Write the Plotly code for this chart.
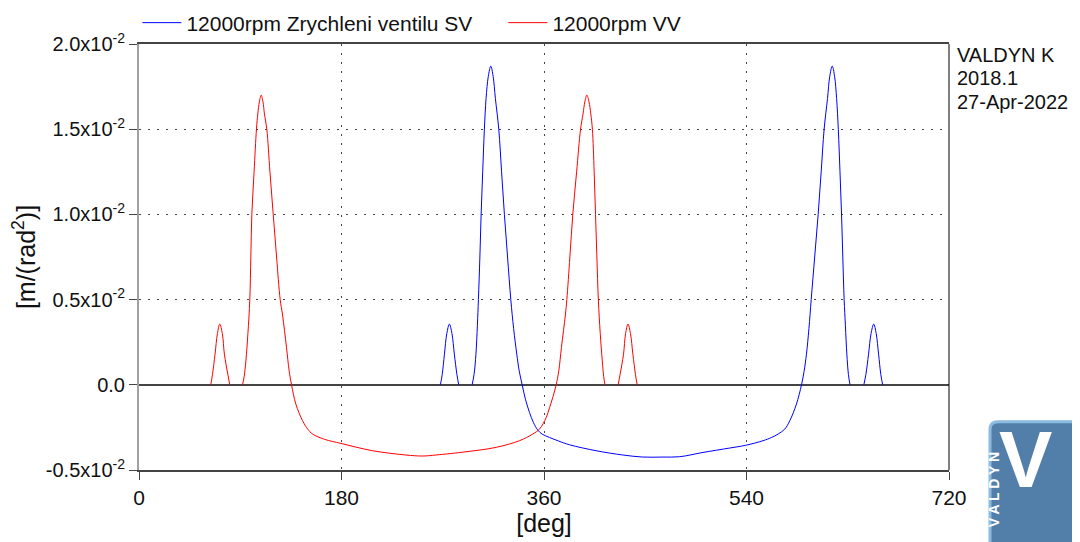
import plotly.graph_objects as go

# crank angle [deg] and valve acceleration [m/rad^2]
# None marks where the curve sits on the zero line (hidden there)
sv_deg = [267.9, 269.5, 271.5, 273.6, 275.9, 278.2, 280.3, 282.6, 284.2, None,
          296.1, 297.8, 299.5, 300.8, 301.7, 303.0, 304.1, 305.5, 307.0, 308.5, 310.5, 312.7,
          314.8, 316.8, 319.8, 322.3, 324.8, 327.6, 330.5, 333.0, 335.8, 338.0, 340.6,
          343.5, 347.1, 350.5, 354.5, 358.5, 364.9, 373.0, 382.7, 406.4, 430.1, 447.9,
          465.7, 480.6, 501.3, 525.1, 539.3, 554.7, 562.0, 568.1, 574.0, 578.5, 584.4,
          588.9, 591.2, 593.3, 595.5, 597.5, 600.6, 603.7, 606.4, 609.0, 612.0, 614.0,
          616.2, 618.3, 620.1, 621.6, 623.1, 624.5, 625.6, 626.8, 627.9, 629.2, 630.6, 632.0, None,
          644.3, 646.1, 648.5, 650.7, 653.1, 655.3, 657.4, 659.4, 661.0]
sv_acc = [0.0, 0.0006, 0.0018, 0.0030, 0.00356, 0.0030, 0.0018, 0.0006, 0.0, None,
          0.0, 0.0006, 0.0018, 0.0035, 0.005, 0.0075, 0.010, 0.0125, 0.015, 0.0168, 0.0181, 0.0187,
          0.0181, 0.0168, 0.015, 0.0125, 0.010, 0.0075, 0.005, 0.0033, 0.0018, 0.0008, 0.0,
          -0.00085, -0.00162, -0.0022, -0.00266, -0.0029, -0.00309, -0.0033, -0.00352, -0.00387, -0.00412, -0.00424,
          -0.00424, -0.00422, -0.00397, -0.00371, -0.00355, -0.00328, -0.0031, -0.00289, -0.0026, -0.00211, -0.00113,
          0.0, 0.0008, 0.0018, 0.0033, 0.005, 0.0075, 0.010, 0.0125, 0.015, 0.0168, 0.0181,
          0.0187, 0.0181, 0.0168, 0.015, 0.0125, 0.010, 0.0075, 0.005, 0.0035, 0.0018, 0.0006, 0.0, None,
          0.0, 0.0006, 0.0018, 0.0030, 0.00356, 0.0030, 0.0018, 0.0006, 0.0]

vv_deg = [63.8, 65.3, 67.6, 69.7, 71.8, 74.1, 75.9, 79.0, 80.7, None,
          92.0, 93.5, 95.0, 96.8, 98.5, 99.4, 100.3, 102.3, 104.4, 105.6, 107.0, 108.6,
          110.2, 111.5, 113.6, 116.4, 119.3, 122.3, 125.5, 127.6, 131.1, 133.5, 135.6,
          139.4, 145.4, 150.0, 154.3, 165.0, 179.5, 207.7, 237.3, 252.2, 264.0, 290.7,
          317.5, 338.2, 350.0, 356.0, 362.0, 365.0, 368.0,
          370.8, 373.1, 375.5, 379.0, 380.3, 383.0, 385.6, 389.0, 392.5, 394.7, 396.3, 398.1,
          400.0, 401.6, 403.0, 404.6, 405.8, 407.0, 408.3, 410.0, 411.8, 413.0, 414.2, None,
          425.9, 427.6, 430.7, 432.5, 434.7, 436.9, 439.0, 441.3, 442.8]
vv_acc = [0.0, 0.0006, 0.0018, 0.0030, 0.00356, 0.0030, 0.0018, 0.0006, 0.0, None,
          0.0, 0.0005, 0.0014, 0.0030, 0.005, 0.0075, 0.010, 0.0125, 0.015, 0.0159, 0.0166, 0.0170,
          0.0166, 0.0159, 0.015, 0.0125, 0.010, 0.0075, 0.005, 0.0041, 0.0022, 0.0008, 0.0,
          -0.00113, -0.00211, -0.0026, -0.00289, -0.0032, -0.00344, -0.00387, -0.00412, -0.00418, -0.00412, -0.00393,
          -0.00367, -0.00328, -0.00289, -0.0026, -0.00191, -0.00133, -0.0007,
          0.0, 0.0008, 0.0022, 0.0041, 0.005, 0.0075, 0.010, 0.0125, 0.015, 0.0159, 0.0166, 0.0170,
          0.0166, 0.0159, 0.015, 0.0125, 0.010, 0.0075, 0.005, 0.0030, 0.0014, 0.0005, 0.0, None,
          0.0, 0.0006, 0.0018, 0.0030, 0.00356, 0.0030, 0.0018, 0.0006, 0.0]

x_ticks = [0, 180, 360, 540, 720]
y_ticks = [-0.005, 0.0, 0.005, 0.01, 0.015, 0.02]
y_ticktext = ["-0.5x10<sup>-2</sup>", "0.0", "0.5x10<sup>-2</sup>",
              "1.0x10<sup>-2</sup>", "1.5x10<sup>-2</sup>", "2.0x10<sup>-2</sup>"]
info_lines = ["VALDYN K", "2018.1", "27-Apr-2022"]

FONT = "Liberation Sans, Arial, sans-serif"

fig = go.Figure()
fig.add_trace(go.Scatter(x=sv_deg, y=sv_acc, mode="lines", name="12000rpm Zrychleni ventilu SV",
                         line=dict(color="#0000ff", width=1, shape="spline", smoothing=1.0),
                         connectgaps=False))
fig.add_trace(go.Scatter(x=vv_deg, y=vv_acc, mode="lines", name="12000rpm VV",
                         line=dict(color="#ff0000", width=1, shape="spline", smoothing=1.0),
                         connectgaps=False))

fig.update_xaxes(range=[0, 720], tickvals=x_ticks, ticks="outside", ticklen=8, tickcolor="#444",
                 showline=True, linecolor="#444", linewidth=2, mirror=True,
                 showgrid=True, gridcolor="#444", griddash="2px,7px", gridwidth=1, zeroline=False,
                 title=dict(text="[deg]", standoff=6), tickfont=dict(size=21))
fig.update_yaxes(range=[-0.005, 0.02], tickvals=y_ticks, ticktext=y_ticktext,
                 ticks="outside", ticklen=8, tickcolor="#444",
                 showline=True, linecolor="#a0a0a0", linewidth=2,
                 showgrid=True, gridcolor="#444", griddash="2px,7px", gridwidth=1,
                 zeroline=True, zerolinecolor="#444", zerolinewidth=1.5,
                 title=dict(text="[m/(rad<sup>2</sup>)]", standoff=6), tickfont=dict(size=20))

# right frame edge is a thin black line in the original
fig.add_shape(type="line", xref="paper", yref="paper", x0=1, x1=1, y0=0, y1=1,
              line=dict(color="black", width=1))

for i, txt in enumerate(info_lines):
    fig.add_annotation(text=txt, xref="paper", yref="paper", x=1.008, y=1.005 - i * 0.055,
                       xanchor="left", yanchor="top", showarrow=False, font=dict(size=20))

# rough stand-in for the VALDYN logo in the corner
fig.add_shape(type="path", xref="paper", yref="paper", layer="above",
              path="M 1.0506,0.095 L 1.0506,-0.25 L 1.25,-0.25 L 1.25,0.1134 L 1.0605,0.1134 Q 1.0506,0.1134 1.0506,0.095 Z",
              fillcolor="#527faa", line=dict(color="#8cbbe0", width=3))
fig.add_annotation(text="<b>V</b>", xref="paper", yref="paper", x=1.13, y=-0.085,
                   showarrow=False, font=dict(size=80, color="white"))
fig.add_annotation(text="<b>V A L D Y N</b>", xref="paper", yref="paper", x=1.068, y=-0.14,
                   textangle=-90, showarrow=False, font=dict(size=14, color="white"))

# the page body keeps its 8px default margin, so the figure is 8px smaller than the window
fig.update_layout(
    width=1072, height=534,
    margin=dict(l=131, r=131, t=36, b=72, autoexpand=False),
    paper_bgcolor="white", plot_bgcolor="white",
    font=dict(family=FONT, size=21, color="#111"),
    showlegend=True,
    legend=dict(orientation="h", x=-0.002, xanchor="left", yref="paper", y=1.0493,
                yanchor="middle", itemwidth=39, font=dict(size=21), bgcolor="rgba(0,0,0,0)",
                entrywidthmode="pixels", entrywidth=312),
)

fig.write_html("out.html")
